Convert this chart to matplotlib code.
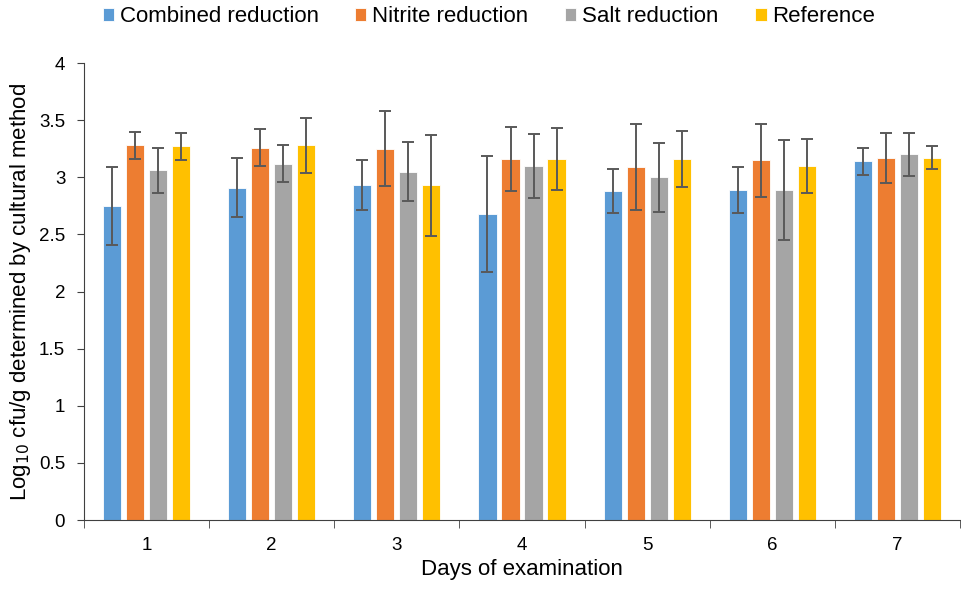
import numpy as np
import matplotlib.pyplot as plt

plt.rcParams['font.family'] = ['Liberation Sans', 'DejaVu Sans']

days = ['1', '2', '3', '4', '5', '6', '7']
series_names = ['Combined reduction', 'Nitrite reduction', 'Salt reduction', 'Reference']

combined = [2.75, 2.91, 2.93, 2.68, 2.88, 2.89, 3.14]
combined_err = [0.34, 0.26, 0.22, 0.51, 0.19, 0.20, 0.12]
nitrite = [3.28, 3.26, 3.25, 3.16, 3.09, 3.15, 3.17]
nitrite_err = [0.12, 0.16, 0.33, 0.28, 0.375, 0.32, 0.22]
salt = [3.06, 3.12, 3.05, 3.10, 3.00, 2.89, 3.20]
salt_err = [0.20, 0.16, 0.26, 0.28, 0.30, 0.44, 0.185]
reference = [3.27, 3.28, 2.93, 3.16, 3.16, 3.10, 3.17]
reference_err = [0.12, 0.24, 0.44, 0.27, 0.245, 0.235, 0.10]

colors = ['#5B9BD5', '#ED7D31', '#A5A5A5', '#FFC000']

fig = plt.figure(figsize=(9.62, 5.89), dpi=100)
ax = fig.add_axes([0.0873, 0.1171, 0.9107, 0.7759])

x = np.arange(len(days))
step = 0.184
width = 0.145
all_vals = [combined, nitrite, salt, reference]
all_errs = [combined_err, nitrite_err, salt_err, reference_err]
for i, (vals, errs) in enumerate(zip(all_vals, all_errs)):
    pos = x + (i - 1.5) * step
    ax.bar(pos, vals, width, color=colors[i], edgecolor='white', linewidth=0.6,
           label=series_names[i], zorder=2)
    ax.errorbar(pos, vals, yerr=errs, fmt='none', ecolor='#595959',
                elinewidth=1.4, capsize=4, capthick=1.4, zorder=3)

ax.set_xlim(-0.5, len(days) - 0.5)
ax.set_ylim(0, 4)
ax.set_yticks(np.arange(0, 4.01, 0.5))
ax.set_yticklabels(['0', '0.5', '1', '1.5', '2', '2.5', '3', '3.5', '4'])
ax.set_xticks(x)
ax.set_xticklabels(days)
ax.set_xticks(np.arange(-0.5, len(days), 1), minor=True)
ax.tick_params(axis='x', which='major', length=0, labelsize=13.5, pad=12)
ax.tick_params(axis='x', which='minor', length=6, color='#404040', direction='out')
ax.tick_params(axis='y', length=5, labelsize=13.5, color='#404040', pad=8.5)

for side in ['top', 'right']:
    ax.spines[side].set_visible(False)
ax.spines['left'].set_color('#404040')
ax.spines['bottom'].set_color('#404040')

ax.set_xlabel('Days of examination', fontsize=16, labelpad=4)
ax.set_ylabel('Log$_{10}$ cfu/g determined by cultural method', fontsize=16, labelpad=4)

ax.legend(loc='center', bbox_to_anchor=(489 / 962, 1 - 17 / 589),
          bbox_transform=fig.transFigure, ncol=4, frameon=False,
          fontsize=16, handlelength=0.5, handleheight=0.5, handletextpad=0.27,
          columnspacing=1.65, borderpad=0)

fig.savefig('out.png', dpi=100)
